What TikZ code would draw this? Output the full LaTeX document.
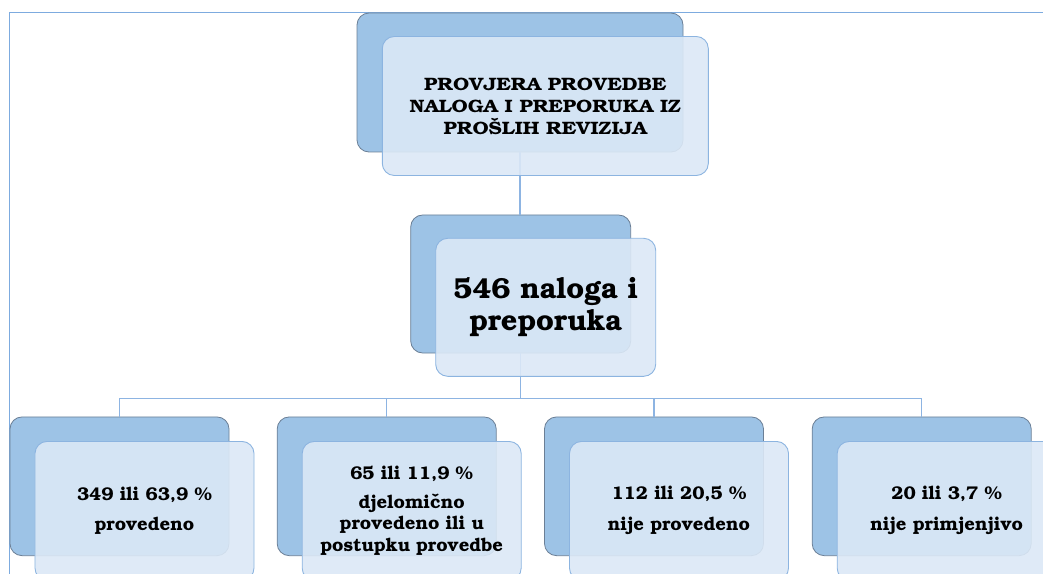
\documentclass[tikz,border=0pt]{standalone}
\usepackage[T1]{fontenc}
\usepackage{bookman}
\definecolor{backfill}{HTML}{9DC3E6}
\definecolor{backdraw}{HTML}{6B7F96}
\definecolor{frontfill}{HTML}{DBE8F6}
\definecolor{frontdraw}{HTML}{8CB4E0}
\definecolor{linec}{HTML}{8DB4E2}
\definecolor{framec}{HTML}{7DABDF}
\newcommand{\wide}[2][1.12]{\scalebox{#1}[1]{#2}}
\begin{document}
\begin{tikzpicture}[x=1bp,y=-1bp,
  backbox/.style={draw=backdraw, fill=backfill, rounded corners=12bp, inner sep=0pt, line width=0.8bp},
  frontbox/.style={draw=frontdraw, fill=frontfill, fill opacity=0.9, text opacity=1, rounded corners=12bp, inner sep=0pt, line width=0.9bp, align=center},
  conn/.style={draw=linec, line width=1.1bp},
  toptxt/.style={font=\bfseries\fontsize{18}{22}\selectfont},
  smalltxt/.style={font=\bfseries\fontsize{18.5}{22}\selectfont},
  bigtxt/.style={font=\bfseries\fontsize{29}{32}\selectfont},
  btmback/.style={backbox, minimum width=219bp, minimum height=138.7bp},
  btmfront/.style={frontbox, smalltxt, minimum width=219bp, minimum height=138.7bp}]
\useasboundingbox (0,0) rectangle (1043,574);
\clip (0,0) rectangle (1043,574);
\draw[framec, line width=1bp] (9.5,700) -- (9.5,12.3) -- (1100,12.3);
% back boxes
\node[backbox, minimum width=326bp, minimum height=139bp] (topb) at (520,82.5) {};
\node[backbox, minimum width=220bp, minimum height=138bp] (midb) at (520.7,284) {};
\node[btmback] (b1) at (119.5,486.3) {};
\node[btmback] (b2) at (386.7,486.3) {};
\node[btmback] (b3) at (654,486.3) {};
\node[btmback] (b4) at (921.7,486.3) {};
% connectors
\coordinate (bus) at (0,398.3);
\draw[conn] (topb.south) -- (topb.south |- midb.north);
\draw[conn] (midb.south) -- (midb.south |- bus);
\draw[conn] (b1.north) -- (b1.north |- bus) -- (b4.north |- bus) -- (b4.north);
\draw[conn] (b2.north) -- (b2.north |- bus);
\draw[conn] (b3.north) -- (b3.north |- bus);
% front boxes
\node[frontbox, toptxt, minimum width=326bp, minimum height=139bp] (topf) at (545.3,106)
  {\wide{PROVJERA PROVEDBE}\\\wide{NALOGA I PREPORUKA IZ}\\\wide{PRO\v{S}LIH REVIZIJA}};
\node[frontbox, bigtxt, minimum width=220bp, minimum height=138bp] (midf) at (545.7,307.3)
  {546 naloga i\\preporuka};
\node[btmfront] (f1) at (144.5,510.8) {349 ili 63,9 \%\\[9bp]provedeno};
\node[btmfront] (f2) at (411.7,510.8) {65 ili 11,9 \%\\[7bp]djelomi\v{c}no\\provedeno ili u\\postupku provedbe};
\node[btmfront] (f3) at (679,510.8) {112 ili 20,5 \%\\[9bp]nije provedeno};
\node[btmfront] (f4) at (946.7,510.8) {20 ili 3,7 \%\\[9bp]nije primjenjivo};
\end{tikzpicture}
\end{document}
